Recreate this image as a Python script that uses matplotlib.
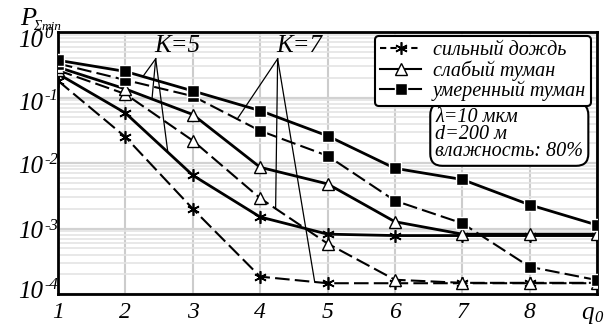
import numpy as np
import matplotlib
matplotlib.use("Agg")
import matplotlib.pyplot as plt
from matplotlib.transforms import ScaledTranslation, blended_transform_factory

plt.rcParams['font.family'] = ['Liberation Serif', 'DejaVu Serif']
plt.rcParams['font.style'] = 'italic'

# ---- data ----
q0 = [1, 2, 3, 4, 5, 6, 7, 8, 9]
rain_k5 = [0.23, 0.058, 0.0065, 0.0015, 0.00082, 0.00078, 0.00078, 0.00078, 0.00078]
rain_k7 = [0.18, 0.025, 0.0020, 0.000184, 0.000146, 0.000146, 0.000146, 0.000146, 0.000146]
lfog_k5 = [0.29, 0.135, 0.055, 0.0086, 0.0048, 0.00127, 0.00082, 0.00082, 0.00082]
lfog_k7 = [0.26, 0.113, 0.022, 0.0029, 0.00059, 0.000165, 0.000148, 0.000148, 0.000148]
mfog_k5 = [0.37, 0.25, 0.126, 0.063, 0.026, 0.0083, 0.0056, 0.0023, 0.00113]
mfog_k7 = [0.33, 0.185, 0.105, 0.031, 0.0129, 0.00266, 0.0012, 0.00026, 0.000163]

xtick_labels = ['1', '2', '3', '4', '5', '6', '7', '8', '']
xlabel_main, xlabel_sub = 'q', '0'
ytick_vals = [1e-4, 1e-3, 1e-2, 1e-1, 1e0]
ytick_exps = ['-4', '-3', '-2', '-1', '0']
legend_labels = ['сильный дождь', 'слабый туман', 'умеренный туман']
info_text = 'λ=10 мкм\nd=200 м\nвлажность: 80%'

fig = plt.figure(figsize=(6.10, 3.26), dpi=100)
ax = fig.add_axes([58/610, 1-294/326, (597-58)/610, (294-32)/326])
ax.set_yscale('log')
ax.set_xlim(1, 9)
ax.set_ylim(1e-4, 1e0)

# grid
ax.set_xticks(q0)
ax.grid(True, which='major', axis='x', color='#cccccc', lw=1.5, zorder=0)
ax.grid(True, which='major', axis='y', color='#d2d2d2', lw=1.6, zorder=0)
ax.grid(True, which='minor', axis='y', color='#e4e4e4', lw=1.2, zorder=0)

mk_ast = dict(marker=(6, 2, 0), ms=9, mfc='black', mec='black', mew=1.2)
mk_tri = dict(marker='^', ms=9, mfc='white', mec='black', mew=1.0)
mk_sq = dict(marker='s', ms=8, mfc='black', mec='white', mew=1.0)
solid = dict(color='black', lw=2.0, ls='-')
dashed = dict(color='black', lw=1.5, ls=(0, (7, 2.5)))

ax.plot(q0, rain_k7, **dashed, **mk_ast, zorder=3)
ax.plot(q0, rain_k5, **solid, **mk_ast, zorder=3)
ax.plot(q0, lfog_k7, **dashed, **mk_tri, zorder=4)
ax.plot(q0, lfog_k5, **solid, **mk_tri, zorder=4)
ax.plot(q0, mfog_k7, **dashed, **mk_sq, zorder=5)
ax.plot(q0, mfog_k5, **solid, **mk_sq, zorder=5)

# annotation lines (K=5 -> solid, K=7 -> dashed)
def on_series(series, x):
    return 10 ** np.interp(x, q0, np.log10(series))

apex_y = 0.39
for apex_x, label, targets in [
    (2.45, 'K=5', [(mfog_k5, 2.26), (lfog_k5, 2.395), (rain_k5, 2.63)]),
    (4.26, 'K=7', [(mfog_k7, 3.66), (lfog_k7, 4.23), (rain_k7, 4.81)]),
]:
    for s, x in targets:
        ax.plot([apex_x, x], [apex_y, on_series(s, x)], color='black', lw=0.9, zorder=6)
    ax.text(apex_x + 0.32, apex_y * 1.06, label, fontsize=18, ha='center', va='bottom',
            fontstyle='italic', zorder=7)

# legend
handles = [
    plt.Line2D([], [], color='black', lw=1.5, ls=(0, (3, 2)), **mk_ast),
    plt.Line2D([], [], color='black', lw=1.5, ls='-', **mk_tri),
    plt.Line2D([], [], color='black', lw=1.5, ls='-', **mk_sq),
]
leg = ax.legend(handles, legend_labels, loc='upper right', bbox_to_anchor=(0.989, 0.985),
                prop=dict(family='Liberation Serif', style='italic', size=14.5),
                frameon=True, fancybox=True, edgecolor='black',
                framealpha=1, labelspacing=0.0, handlelength=2.0, handletextpad=0.6,
                borderpad=0.25, borderaxespad=0)
leg.get_frame().set_linewidth(1.5)
leg.set_zorder(10)

ax.text(0.70, 0.71, info_text, transform=ax.transAxes, fontsize=14.5, ha='left', va='top',
        fontstyle='italic', linespacing=0.85, zorder=10,
        bbox=dict(boxstyle='round,pad=0.25,rounding_size=0.6', fc='white', ec='black', lw=1.5))

# ticks
ax.set_xticklabels(xtick_labels, fontsize=17, fontstyle='italic')
ax.set_yticks(ytick_vals)
ax.set_yticklabels([''] * len(ytick_vals))
ax.tick_params(axis='both', which='both', length=0)
ax.tick_params(axis='x', pad=6)
for sp in ax.spines.values():
    sp.set_linewidth(2.0)
    sp.set_color('black')

# y tick labels "10" with superscript exponents (italic serif)
px = 1 / 100
ybt = blended_transform_factory(ax.transAxes, ax.transData)
shifts = [-4, 2, 2, 4, 7]  # px shift of digit centre from the gridline (down positive)
for v, e, sh in zip(ytick_vals, ytick_exps, shifts):
    base = -(sh + 8)
    ax.text(0, v, '10', fontsize=18, fontstyle='italic', ha='right', va='baseline',
            transform=ybt + ScaledTranslation(-15 * px, base * px, fig.dpi_scale_trans), clip_on=False)
    ax.text(0, v, e, fontsize=12, fontstyle='italic', ha='left', va='baseline',
            transform=ybt + ScaledTranslation(-14 * px, (base + 9) * px, fig.dpi_scale_trans), clip_on=False)

# x label q0 at the last tick
xbt = blended_transform_factory(ax.transData, ax.transAxes)
ax.text(q0[-1], 0, xlabel_main, fontsize=18, fontstyle='italic', ha='right', va='baseline',
        transform=xbt + ScaledTranslation(-3 * px, -25 * px, fig.dpi_scale_trans), clip_on=False)
ax.text(q0[-1], 0, xlabel_sub, fontsize=12, fontstyle='italic', ha='left', va='baseline',
        transform=xbt + ScaledTranslation(-3 * px, -28 * px, fig.dpi_scale_trans), clip_on=False)

# y axis title P_{Σmin}
fig.text(20/610, 1-25/326, 'P', fontsize=19, fontstyle='italic', ha='left', va='baseline')
fig.text(33/610, 1-30/326, 'Σ', fontsize=10, fontstyle='italic', ha='left', va='baseline')
fig.text(42/610, 1-30/326, 'min', fontsize=9.5, fontstyle='italic', ha='left', va='baseline')

fig.savefig('out.png', dpi=100)
